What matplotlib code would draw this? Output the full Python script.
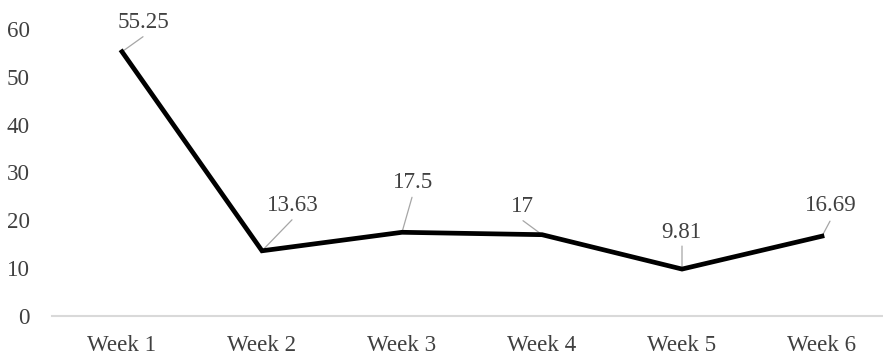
import matplotlib
matplotlib.use("Agg")
import matplotlib.pyplot as plt

weeks = ["Week 1", "Week 2", "Week 3", "Week 4", "Week 5", "Week 6"]
values = [55.25, 13.63, 17.5, 17, 9.81, 16.69]
value_labels = ["55.25", "13.63", "17.5", "17", "9.81", "16.69"]
y_ticks = [0, 10, 20, 30, 40, 50, 60]

# label placement (pixel offsets from each point): text anchor and leader end
text_offsets = [(21, 24), (31, 40), (11, 44), (-20, 23), (-1, 31), (9, 25)]
leader_ends = [(21, 15), (30, 31), (10, 35), (-19, 14), (0, 23), (8, 15)]

plt.rcParams["font.family"] = ["Liberation Serif", "DejaVu Serif"]
text_color = "#404040"
fs = 16.6

fig = plt.figure(figsize=(8.83, 3.57), dpi=100)
W, H = 883, 357
left, right = 52, 892
bottom, top = 316, 29
ax = fig.add_axes([left / W, (H - bottom) / H, (right - left) / W, (bottom - top) / H])

x = list(range(len(weeks)))
ax.plot(x, values, color="black", lw=3.4, solid_joinstyle="miter", zorder=3)

for xi, v, lab, (tx, ty), (lx, ly) in zip(x, values, value_labels, text_offsets, leader_ends):
    ax.annotate("", xy=(xi, v), xytext=(lx, ly), textcoords="offset pixels",
                arrowprops=dict(arrowstyle="-", color="#a6a6a6", lw=0.9,
                                shrinkA=0, shrinkB=0),
                annotation_clip=False, zorder=2)
    ax.annotate(lab, xy=(xi, v), xytext=(tx, ty), textcoords="offset pixels",
                ha="center", va="baseline", fontsize=fs, color=text_color,
                annotation_clip=False)

ax.set_xlim(-0.5, len(weeks) - 0.5)
ax.set_ylim(0, 60)
ax.set_xticks(x)
ax.set_xticklabels(weeks)
ax.set_yticks(y_ticks)

for side in ["left", "right", "top"]:
    ax.spines[side].set_visible(False)
ax.spines["bottom"].set_color("#d9d9d9")
ax.spines["bottom"].set_linewidth(1.5)

ax.tick_params(axis="x", length=0, pad=13.5, labelsize=fs, labelcolor=text_color)
ax.tick_params(axis="y", length=0, pad=16, labelsize=fs, labelcolor=text_color)

fig.savefig("out.png", dpi=100)
